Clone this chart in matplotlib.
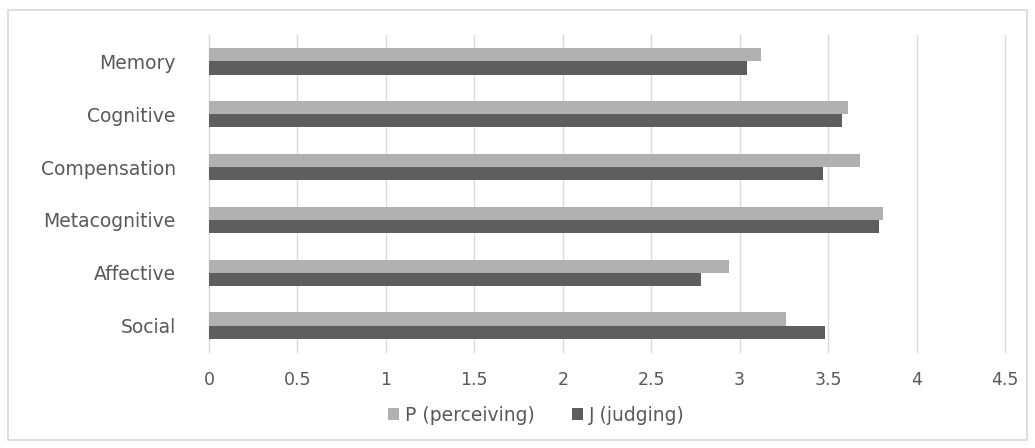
import matplotlib.pyplot as plt
import numpy as np
from matplotlib.patches import Rectangle

# Mean strategy scores by personality preference
categories = ['Memory', 'Cognitive', 'Compensation', 'Metacognitive', 'Affective', 'Social']
perceiving = [3.12, 3.61, 3.68, 3.81, 2.94, 3.26]
judging = [3.04, 3.58, 3.47, 3.79, 2.78, 3.48]
xticks = [0, 0.5, 1, 1.5, 2, 2.5, 3, 3.5, 4, 4.5]
xtick_labels = ['0', '0.5', '1', '1.5', '2', '2.5', '3', '3.5', '4', '4.5']

c_p = '#b1b1b1'
c_j = '#5e5e5e'
text_c = '#595959'

plt.rcParams['font.family'] = ['DejaVu Sans']

fig = plt.figure(figsize=(10.35, 4.48), dpi=100)
# thin outer frame around the chart
fig.patches.append(Rectangle((0.008, 0.018), 0.984, 0.96, transform=fig.transFigure,
                             fill=False, edgecolor='#d9d9d9', linewidth=1.2))

ax = fig.add_axes([0.2019, 0.2143, 0.7691, 0.7076])

y = np.arange(len(categories))[::-1].astype(float)
h = 0.25
ax.barh(y + h / 2, perceiving, height=h, color=c_p, label='P (perceiving)')
ax.barh(y - h / 2, judging, height=h, color=c_j, label='J (judging)')

ax.set_xlim(0, 4.5)
ax.set_ylim(-0.5, len(categories) - 0.5)
ax.set_xticks(xticks)
ax.set_xticklabels(xtick_labels)
ax.set_yticks(y)
ax.set_yticklabels(categories, fontsize=13.5)
ax.xaxis.grid(True, color='#d9d9d9', linewidth=1)
for gl in ax.get_xgridlines():
    gl.set_clip_on(False)
ax.set_axisbelow(True)
for s in ax.spines.values():
    s.set_visible(False)
ax.tick_params(axis='both', length=0, colors=text_c)
ax.tick_params(axis='x', pad=14, labelsize=12.5)
ax.tick_params(axis='y', pad=24)

ax.legend(loc='center', bbox_to_anchor=(0.411, -0.2), ncol=2, frameon=False,
          fontsize=13.5, labelcolor=text_c, handlelength=0.6, handleheight=0.6,
          handletextpad=0.3, columnspacing=2.0)

fig.savefig('out.png', dpi=100)
